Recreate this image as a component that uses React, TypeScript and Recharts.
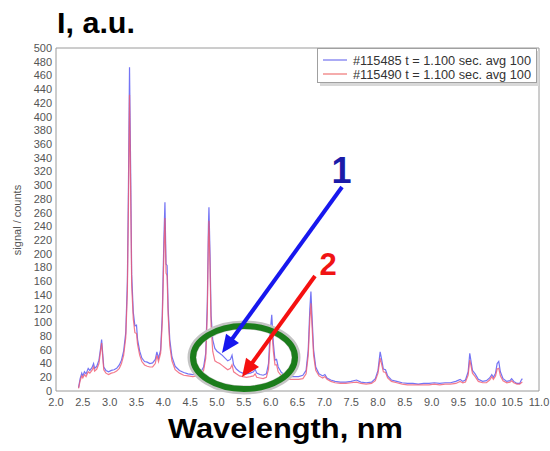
import React from 'react';
import { LineChart, Line, XAxis, YAxis, Legend } from 'recharts';

// Wavelength (nm)
const wavelength = [
  2.42, 2.45, 2.48, 2.5, 2.53, 2.56, 2.6, 2.63, 2.67, 2.7, 2.72, 2.76, 2.8, 2.83, 2.85, 2.87, 2.89, 2.93, 2.98,
  3.03, 3.08, 3.13, 3.18, 3.22, 3.26, 3.3, 3.33, 3.35, 3.37, 3.39, 3.41, 3.44, 3.47, 3.5, 3.52, 3.56, 3.6, 3.65,
  3.7, 3.75, 3.8, 3.85, 3.88, 3.91, 3.95, 3.98, 4.01, 4.03, 4.05, 4.07, 4.09, 4.12, 4.16, 4.22, 4.3, 4.38, 4.46,
  4.55, 4.62, 4.7, 4.75, 4.79, 4.82, 4.84, 4.85, 4.87, 4.89, 4.92, 4.96, 5.0, 5.05, 5.1, 5.15, 5.2, 5.25, 5.28,
  5.31, 5.36, 5.42, 5.48, 5.55, 5.62, 5.68, 5.71, 5.74, 5.8, 5.86, 5.92, 5.96, 5.99, 6.02, 6.05, 6.08, 6.11, 6.14,
  6.2, 6.28, 6.36, 6.44, 6.52, 6.6, 6.66, 6.7, 6.73, 6.75, 6.77, 6.8, 6.84, 6.9, 6.97, 7.01, 7.05, 7.12, 7.2, 7.3,
  7.4, 7.5, 7.6, 7.68, 7.78, 7.88, 7.95, 8.0, 8.04, 8.07, 8.1, 8.14, 8.18, 8.25, 8.35, 8.45, 8.55, 8.65, 8.75,
  8.85, 8.95, 9.05, 9.15, 9.25, 9.35, 9.45, 9.53, 9.58, 9.63, 9.68, 9.71, 9.73, 9.76, 9.81, 9.87, 9.95, 10.02,
  10.08, 10.12, 10.15, 10.19, 10.22, 10.25, 10.28, 10.33, 10.4, 10.46, 10.49, 10.53, 10.59, 10.64, 10.67, 10.69,
];

// #115485 (blue)
const signal115485 = [
  5, 18, 26, 22, 28, 25, 33, 30, 34, 40, 33, 36, 45, 62, 75, 55, 35, 30, 28,
  30, 31, 33, 38, 45, 58, 85, 160, 300, 472, 330, 170, 115, 95, 96, 75, 58, 48, 43,
  42, 40, 41, 46, 57, 48, 60, 110, 220, 275, 185, 183, 120, 75, 50, 36, 30, 27, 25,
  24, 25, 28, 35, 55, 130, 240, 268, 200, 110, 75, 62, 58, 55, 52, 48, 44, 46, 52,
  38, 32, 28, 26, 25, 26, 28, 32, 26, 24, 23, 25, 40, 85, 111, 70, 45, 46, 35,
  27, 23, 21, 21, 21, 23, 30, 60, 120, 145, 110, 60, 35, 25, 22, 24, 19, 16, 14, 13,
  13, 14, 16, 13, 12, 13, 18, 30, 57, 45, 32, 31, 22, 16, 14, 12, 11, 11, 10,
  11, 11, 12, 11, 12, 12, 14, 17, 14, 16, 28, 55, 45, 30, 25, 17, 14, 15,
  19, 24, 20, 26, 40, 43, 28, 18, 14, 15, 18, 14, 11, 11, 16, 18,
];

// #115490 (red)
const signal115490 = [
  4, 15, 22, 19, 24, 21, 28, 26, 30, 35, 29, 32, 40, 58, 70, 50, 31, 26, 24,
  26, 27, 29, 33, 40, 52, 78, 145, 270, 432, 300, 155, 105, 85, 84, 68, 52, 43, 38,
  36, 35, 35, 40, 52, 43, 55, 100, 200, 252, 172, 168, 110, 66, 44, 31, 26, 23, 22,
  21, 22, 24, 30, 48, 115, 222, 248, 180, 95, 58, 44, 42, 40, 37, 34, 31, 33, 38,
  28, 25, 22, 21, 20, 21, 22, 25, 20, 19, 18, 20, 32, 70, 90, 58, 38, 38, 28,
  22, 18, 17, 17, 17, 18, 25, 52, 105, 128, 96, 52, 30, 22, 19, 21, 17, 14, 12, 11,
  11, 12, 13, 11, 10, 11, 15, 26, 48, 38, 28, 27, 19, 14, 12, 10, 9, 9, 9,
  9, 9, 10, 9, 10, 10, 11, 14, 12, 13, 23, 45, 38, 26, 21, 14, 12, 12,
  16, 21, 17, 22, 32, 33, 22, 15, 12, 13, 15, 12, 10, 10, 12, 13,
];

const seriesNames = ['#115485 t = 1.100 sec. avg 100', '#115490 t = 1.100 sec. avg 100'];
const seriesColors = ['#5c5cf2', '#f05a70'];
const legendColors = ['#8f8ff2', '#f29090'];

const xMajorTicks = [2, 2.5, 3, 3.5, 4, 4.5, 5, 5.5, 6, 6.5, 7, 7.5, 8, 8.5, 9, 9.5, 10, 10.5, 11];
const yMajorTicks = [0, 20, 40, 60, 80, 100, 120, 140, 160, 180, 200, 220, 240, 260, 280, 300, 320, 340, 360, 380, 400, 420, 440, 460, 480, 500];
const xMinorTicks = Array.from({ length: 91 }, (_, i) => Math.round((2 + i * 0.1) * 10) / 10);
const yMinorTicks = Array.from({ length: 51 }, (_, i) => i * 10);

const data = wavelength.map((w, i) => ({ w, a: signal115485[i], b: signal115490[i] }));

const FONT = 'Arial, "Liberation Sans", Helvetica, sans-serif';
const AXIS = '#9a9a9a';
const TICKTXT = { fontSize: 11, fill: '#555', fontFamily: FONT };

const LegendBox = (props: any) => {
  const payload = (props.payload || []).filter((p: any) => p.type !== 'none' && seriesNames.includes(p.value));
  return (
    <svg width={224} height={40} style={{ display: 'block' }}>
      <rect x={3} y={3} width={219} height={35} fill="#d8d8d8" />
      <rect x={0.5} y={0.5} width={219} height={34} fill="#fff" stroke="#a0a0a0" />
      {payload.map((p: any, i: number) => (
        <g key={i}>
          <line x1={6} x2={30} y1={12 + i * 14} y2={12 + i * 14} stroke={legendColors[i]} strokeWidth={1.5} />
          <text x={36} y={17 + i * 14} fontSize={12} fontFamily={FONT} fill="#333" textLength={178} lengthAdjust="spacingAndGlyphs">
            {p.value}
          </text>
        </g>
      ))}
    </svg>
  );
};

function arrowHead(x1: number, y1: number, x2: number, y2: number, len: number, half: number) {
  const dx = x2 - x1;
  const dy = y2 - y1;
  const l = Math.sqrt(dx * dx + dy * dy);
  const ux = dx / l;
  const uy = dy / l;
  const bx = x2 - ux * len;
  const by = y2 - uy * len;
  return `${x2},${y2} ${bx - uy * half},${by + ux * half} ${bx + uy * half},${by - ux * half}`;
}

const Arrow = ({ x1, y1, x2, y2, color }: any) => {
  const dx = x2 - x1;
  const dy = y2 - y1;
  const l = Math.sqrt(dx * dx + dy * dy);
  const ex = x2 - (dx / l) * 12;
  const ey = y2 - (dy / l) * 12;
  return (
    <g>
      <line x1={x1} y1={y1} x2={ex} y2={ey} stroke={color} strokeWidth={4} />
      <polygon points={arrowHead(x1, y1, x2, y2, 18, 8)} fill={color} />
    </g>
  );
};

const frameAxisPairs = [
  ['xbM', 'ylM'],
  ['xbm', 'ylm'],
  ['xtM', 'yrM'],
  ['xtm', 'yrm'],
];

export default function App() {
  return (
    <div style={{ position: 'absolute', left: 0, top: 0, width: 550, height: 451, background: '#fff' }}>
      <LineChart width={550} height={451} data={data} margin={{ top: 48, right: 11, bottom: 40, left: 16 }}>
        {/* labelled bottom axis */}
        <XAxis
          xAxisId="x"
          dataKey="w"
          type="number"
          domain={[2, 11]}
          ticks={xMajorTicks}
          interval={0}
          allowDataOverflow
          height={20}
          tickLine={false}
          tickSize={5}
          tickMargin={2}
          axisLine={{ stroke: AXIS }}
          tick={TICKTXT}
          tickFormatter={(v: number) => v.toFixed(1)}
        />
        {/* inward major/minor ticks bottom */}
        <XAxis xAxisId="xbM" dataKey="w" type="number" domain={[2, 11]} ticks={xMajorTicks} interval={0} allowDataOverflow mirror height={1} tick={false} tickSize={4} axisLine={false} tickLine={{ stroke: AXIS }} />
        <XAxis xAxisId="xbm" dataKey="w" type="number" domain={[2, 11]} ticks={xMinorTicks} interval={0} allowDataOverflow mirror height={1} tick={false} tickSize={2} axisLine={false} tickLine={{ stroke: AXIS }} />
        {/* top frame */}
        <XAxis xAxisId="xtM" dataKey="w" orientation="top" type="number" domain={[2, 11]} ticks={xMajorTicks} interval={0} allowDataOverflow mirror height={1} tick={false} tickSize={4} axisLine={{ stroke: AXIS }} tickLine={{ stroke: AXIS }} />
        <XAxis xAxisId="xtm" dataKey="w" orientation="top" type="number" domain={[2, 11]} ticks={xMinorTicks} interval={0} allowDataOverflow mirror height={1} tick={false} tickSize={2} axisLine={false} tickLine={{ stroke: AXIS }} />

        {/* labelled left axis */}
        <YAxis
          yAxisId="y"
          type="number"
          domain={[0, 500]}
          ticks={yMajorTicks}
          interval={0}
          allowDataOverflow
          width={40}
          tickLine={false}
          tickSize={2}
          tickMargin={2}
          axisLine={{ stroke: AXIS }}
          tick={TICKTXT}
        />
        <YAxis yAxisId="ylM" type="number" domain={[0, 500]} ticks={yMajorTicks} interval={0} allowDataOverflow mirror width={1} tick={false} tickSize={4} axisLine={false} tickLine={{ stroke: AXIS }} />
        <YAxis yAxisId="ylm" type="number" domain={[0, 500]} ticks={yMinorTicks} interval={0} allowDataOverflow mirror width={1} tick={false} tickSize={2} axisLine={false} tickLine={{ stroke: AXIS }} />
        {/* right frame */}
        <YAxis yAxisId="yrM" orientation="right" type="number" domain={[0, 500]} ticks={yMajorTicks} interval={0} allowDataOverflow mirror width={1} tick={false} tickSize={4} axisLine={{ stroke: AXIS }} tickLine={{ stroke: AXIS }} />
        <YAxis yAxisId="yrm" orientation="right" type="number" domain={[0, 500]} ticks={yMinorTicks} interval={0} allowDataOverflow mirror width={1} tick={false} tickSize={2} axisLine={false} tickLine={{ stroke: AXIS }} />

        {frameAxisPairs.map(([xa, ya]) => (
          <Line key={xa} xAxisId={xa} yAxisId={ya} dataKey="a" stroke="none" dot={false} activeDot={false} legendType="none" isAnimationActive={false} />
        ))}

        <Line xAxisId="x" yAxisId="y" name={seriesNames[0]} dataKey="a" type="linear" stroke={seriesColors[0]} strokeOpacity={0.85} strokeWidth={1.2} dot={false} activeDot={false} isAnimationActive={false} />
        <Line xAxisId="x" yAxisId="y" name={seriesNames[1]} dataKey="b" type="linear" stroke={seriesColors[1]} strokeOpacity={0.8} strokeWidth={1.2} dot={false} activeDot={false} isAnimationActive={false} />

        <Legend
          layout="horizontal"
          verticalAlign="middle"
          align="center"
          content={<LegendBox />}
          wrapperStyle={{ position: 'absolute', left: 317, top: 48, width: 224, height: 40 }}
        />
      </LineChart>

      <svg width={550} height={451} style={{ position: 'absolute', left: 0, top: 0, pointerEvents: 'none' }}>
        <text x={57} y={33} fontSize={29} fontWeight="bold" fontFamily={FONT} fill="#000" textLength={78} lengthAdjust="spacingAndGlyphs">I, a.u.</text>
        <text x={168} y={438} fontSize={27} fontWeight="bold" fontFamily={FONT} fill="#000" textLength={235} lengthAdjust="spacingAndGlyphs">Wavelength, nm</text>
        <text x={0} y={0} transform="translate(21,220) rotate(-90)" textAnchor="middle" fontSize={11} fontFamily={FONT} fill="#555">signal / counts</text>

        <ellipse cx={244} cy={357.5} rx={52} ry={32.5} fill="none" stroke="#c4c4c4" strokeWidth={9} />
        <ellipse cx={244} cy={357.5} rx={51} ry={31.5} fill="none" stroke="#1b7d1b" strokeWidth={6} />

        <Arrow x1={342} y1={187} x2={222} y2={353} color="#1717ee" />
        <Arrow x1={315} y1={276} x2={242} y2={377} color="#f51010" />
        <text x={341.5} y={183} textAnchor="middle" fontSize={36} fontWeight="bold" fontFamily={FONT} fill="#1b1ba8">1</text>
        <text x={328} y={275} textAnchor="middle" fontSize={31} fontWeight="bold" fontFamily={FONT} fill="#f01414">2</text>
      </svg>
    </div>
  );
}
